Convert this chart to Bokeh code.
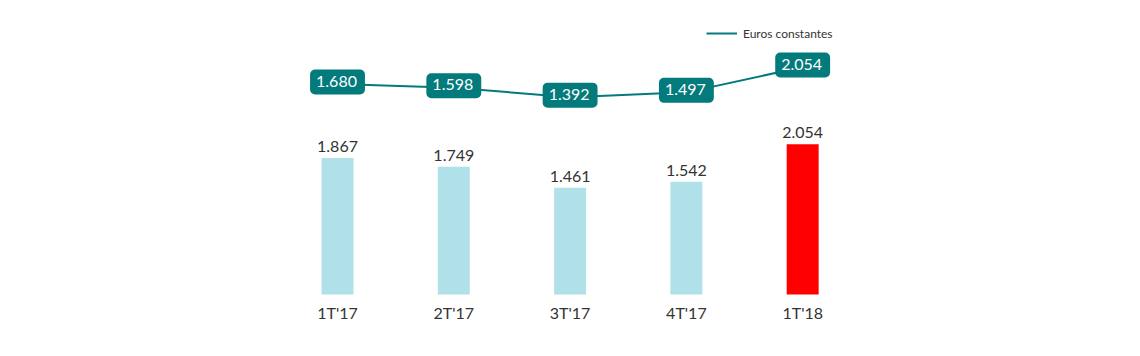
from bokeh.plotting import figure
from bokeh.models import Range1d, ColumnDataSource, Legend, LegendItem
from bokeh.core.properties import value
from bokeh.embed import file_html
from bokeh.resources import INLINE

categories = ["1T'17", "2T'17", "3T'17", "4T'17", "1T'18"]
bar_values = [1867, 1749, 1461, 1542, 2054]
line_values = [1680, 1598, 1392, 1497, 2054]
bar_colors = ["#b0e1e8", "#b0e1e8", "#b0e1e8", "#b0e1e8", "#ff0000"]

def fmt(v):
    return f"{v:,}".replace(",", ".")

xs = list(range(len(categories)))
src = ColumnDataSource(dict(
    x=xs, cat=categories, bar=bar_values, line=line_values, color=bar_colors,
    bar_lbl=[fmt(v) for v in bar_values], line_lbl=[fmt(v) for v in line_values],
    zero=[0] * len(xs),
))

p = figure(width=1140, height=356, output_backend="svg", toolbar_location=None,
           x_range=Range1d(-2.898, 6.905), y_range=Range1d(-848, 4022),
           min_border=0, outline_line_color=None)
p.xaxis.visible = False
p.yaxis.visible = False
p.xgrid.visible = False
p.ygrid.visible = False
p.background_fill_color = "white"
p.border_fill_color = "white"

p.extra_y_ranges = {"line": Range1d(-4308, 3516)}

FONT = "Lato"

p.vbar(x="x", top="bar", bottom=0, width=0.275, color="color", line_color=None, source=src)

p.text(x="x", y="bar", text="bar_lbl", source=src, text_align="center", text_baseline="bottom",
       y_offset=-6, text_font=value(FONT), text_font_size="16px", text_color="#333333")

p.text(x="x", y="zero", text="cat", source=src, text_align="center", text_baseline="middle",
       y_offset=18, text_font=value(FONT), text_font_size="16px", text_color="#333333")

ln = p.line(x="x", y="line", source=src, y_range_name="line", line_color="#037a7c", line_width=2)

p.text(x="x", y="line", text="line_lbl", source=src, y_range_name="line",
       text_align="center", text_baseline="middle", y_offset=-2,
       text_font=value(FONT), text_font_size="16px", text_color="white",
       background_fill_color="#037a7c", border_radius=5, padding=[6, 8, 6, 8])

legend = Legend(items=[LegendItem(label="Euros constantes", renderers=[ln])],
                location=(706, 313), orientation="horizontal",
                border_line_alpha=0, background_fill_alpha=0, padding=0, margin=0,
                glyph_width=31, glyph_height=20, label_height=20, label_standoff=6,
                label_text_font=FONT, label_text_font_size="12px", label_text_color="#333333")
p.add_layout(legend, "center")

open("out.html", "w").write(file_html(p, INLINE))
